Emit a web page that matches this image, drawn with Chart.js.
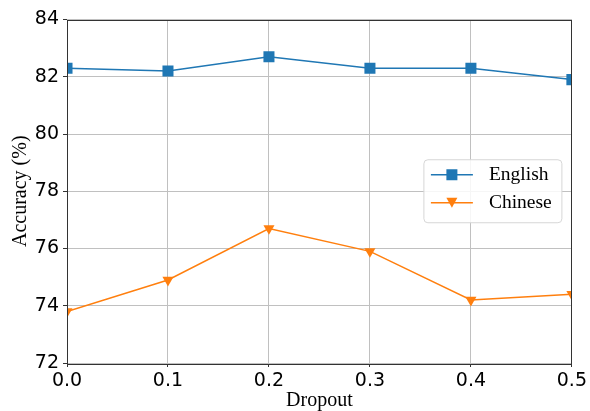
<!DOCTYPE html>
<html>
<head>
<meta charset="utf-8">
<script src="https://cdn.jsdelivr.net/npm/chart.js"></script>
<style>
  html, body { margin: 0; padding: 0; background: #fff; }
  #wrap { width: 590px; height: 411px; }
</style>
</head>
<body>
<div id="wrap"><canvas id="c" width="590" height="411"></canvas></div>
<script>
// ---- data ----
const dropout = [0.0, 0.1, 0.2, 0.3, 0.4, 0.5];
const english = [82.3, 82.2, 82.7, 82.3, 82.3, 81.9];
const chinese = [73.8, 74.9, 76.7, 75.9, 74.2, 74.4];
const seriesNames = ['English', 'Chinese'];
const xTitle = 'Dropout';
const yTitle = 'Accuracy (%)';

const blue = '#1f77b4';
const orange = '#ff7f0e';
const gridColor = '#c0c0c0';

function pts(xs, ys) { return xs.map((x, i) => ({ x: x, y: ys[i] })); }

const framePlugin = {
  id: 'frame',
  afterDatasetsDraw(chart) {
    const { ctx, chartArea: a } = chart;
    ctx.save();
    ctx.strokeStyle = '#333';
    ctx.lineWidth = 1;
    ctx.strokeRect(Math.round(a.left) + 0.5, Math.round(a.top) + 0.5,
                   Math.round(a.right - a.left) - 1, Math.round(a.bottom - a.top));
    ctx.restore();
  }
};

const legendPlugin = {
  id: 'boxLegend',
  afterDraw(chart) {
    const { ctx, chartArea: a } = chart;
    const w = 138, h = 63;
    const right = a.right - 10;
    const left = right - w;
    const top = (a.top + a.bottom) / 2 - h / 2;
    ctx.save();
    const r = 4;
    ctx.beginPath();
    ctx.moveTo(left + r, top);
    ctx.lineTo(left + w - r, top);
    ctx.quadraticCurveTo(left + w, top, left + w, top + r);
    ctx.lineTo(left + w, top + h - r);
    ctx.quadraticCurveTo(left + w, top + h, left + w - r, top + h);
    ctx.lineTo(left + r, top + h);
    ctx.quadraticCurveTo(left, top + h, left, top + h - r);
    ctx.lineTo(left, top + r);
    ctx.quadraticCurveTo(left, top, left + r, top);
    ctx.closePath();
    ctx.fillStyle = 'rgba(255,255,255,0.85)';
    ctx.fill();
    ctx.strokeStyle = '#d6d6d6';
    ctx.lineWidth = 1;
    ctx.stroke();

    chart.data.datasets.forEach((ds, i) => {
      const cy = top + 15 + i * 28;
      const x0 = left + 7, x1 = left + 49, mx = left + 28;
      ctx.strokeStyle = ds.borderColor;
      ctx.lineWidth = 1.5;
      ctx.beginPath();
      ctx.moveTo(x0, cy);
      ctx.lineTo(x1, cy);
      ctx.stroke();
      ctx.fillStyle = ds.backgroundColor;
      if (ds.pointStyle === 'rect') {
        ctx.fillRect(mx - 5.5, cy - 5.5, 11, 11);
      } else {
        ctx.beginPath();
        ctx.moveTo(mx - 5.5, cy - 5);
        ctx.lineTo(mx + 5.5, cy - 5);
        ctx.lineTo(mx, cy + 5);
        ctx.closePath();
        ctx.fill();
      }
      ctx.fillStyle = '#000';
      ctx.font = '19.5px "Liberation Serif", "Times New Roman", serif';
      ctx.textBaseline = 'middle';
      ctx.textAlign = 'left';
      ctx.fillText(ds.label, left + 65, cy + 0.5);
    });
    ctx.restore();
  }
};

new Chart(document.getElementById('c'), {
  type: 'line',
  data: {
    datasets: [
      {
        label: seriesNames[0],
        data: pts(dropout, english),
        borderColor: blue,
        backgroundColor: blue,
        borderWidth: 1.5,
        pointStyle: 'rect',
        pointRadius: 7.8,
        pointBorderWidth: 0,
        pointBackgroundColor: blue,
        clip: 0,
        tension: 0
      },
      {
        label: seriesNames[1],
        data: pts(dropout, chinese),
        borderColor: orange,
        backgroundColor: orange,
        borderWidth: 1.5,
        pointStyle: 'triangle',
        pointRotation: 180,
        pointRadius: 6.4,
        pointBorderWidth: 0,
        pointBackgroundColor: orange,
        clip: 0,
        tension: 0
      }
    ]
  },
  options: {
    responsive: false,
    animation: false,
    events: [],
    layout: { padding: { top: 19.5, right: 18, left: 0, bottom: 0 } },
    plugins: {
      legend: { display: false },
      tooltip: { enabled: false }
    },
    scales: {
      x: {
        type: 'linear',
        min: 0,
        max: 0.5,
        ticks: {
          stepSize: 0.1,
          color: '#000',
          padding: 3,
          font: { family: '"DejaVu Sans", sans-serif', size: 19 },
          callback: v => Number(v).toFixed(1),
          maxRotation: 0
        },
        grid: { color: gridColor, lineWidth: 1, tickLength: 4, tickColor: '#333' },
        border: { display: false },
        title: {
          display: true,
          text: xTitle,
          color: '#000',
          padding: { top: 0, bottom: 0 },
          font: { family: '"Liberation Serif", "Times New Roman", serif', size: 20, lineHeight: 1 }
        },
        afterFit(s) { s.height = 48; }
      },
      y: {
        min: 72,
        max: 84,
        ticks: {
          stepSize: 2,
          color: '#000',
          padding: 4,
          font: { family: '"DejaVu Sans", sans-serif', size: 19 }
        },
        grid: { color: gridColor, lineWidth: 1, tickLength: 4, tickColor: '#333' },
        border: { display: false },
        title: {
          display: true,
          text: yTitle,
          color: '#000',
          padding: { top: 9, bottom: 0 },
          font: { family: '"Liberation Serif", "Times New Roman", serif', size: 20, lineHeight: 1.2 }
        },
        afterFit(s) { s.width = 67; }
      }
    }
  },
  plugins: [framePlugin, legendPlugin]
});
</script>
</body>
</html>
